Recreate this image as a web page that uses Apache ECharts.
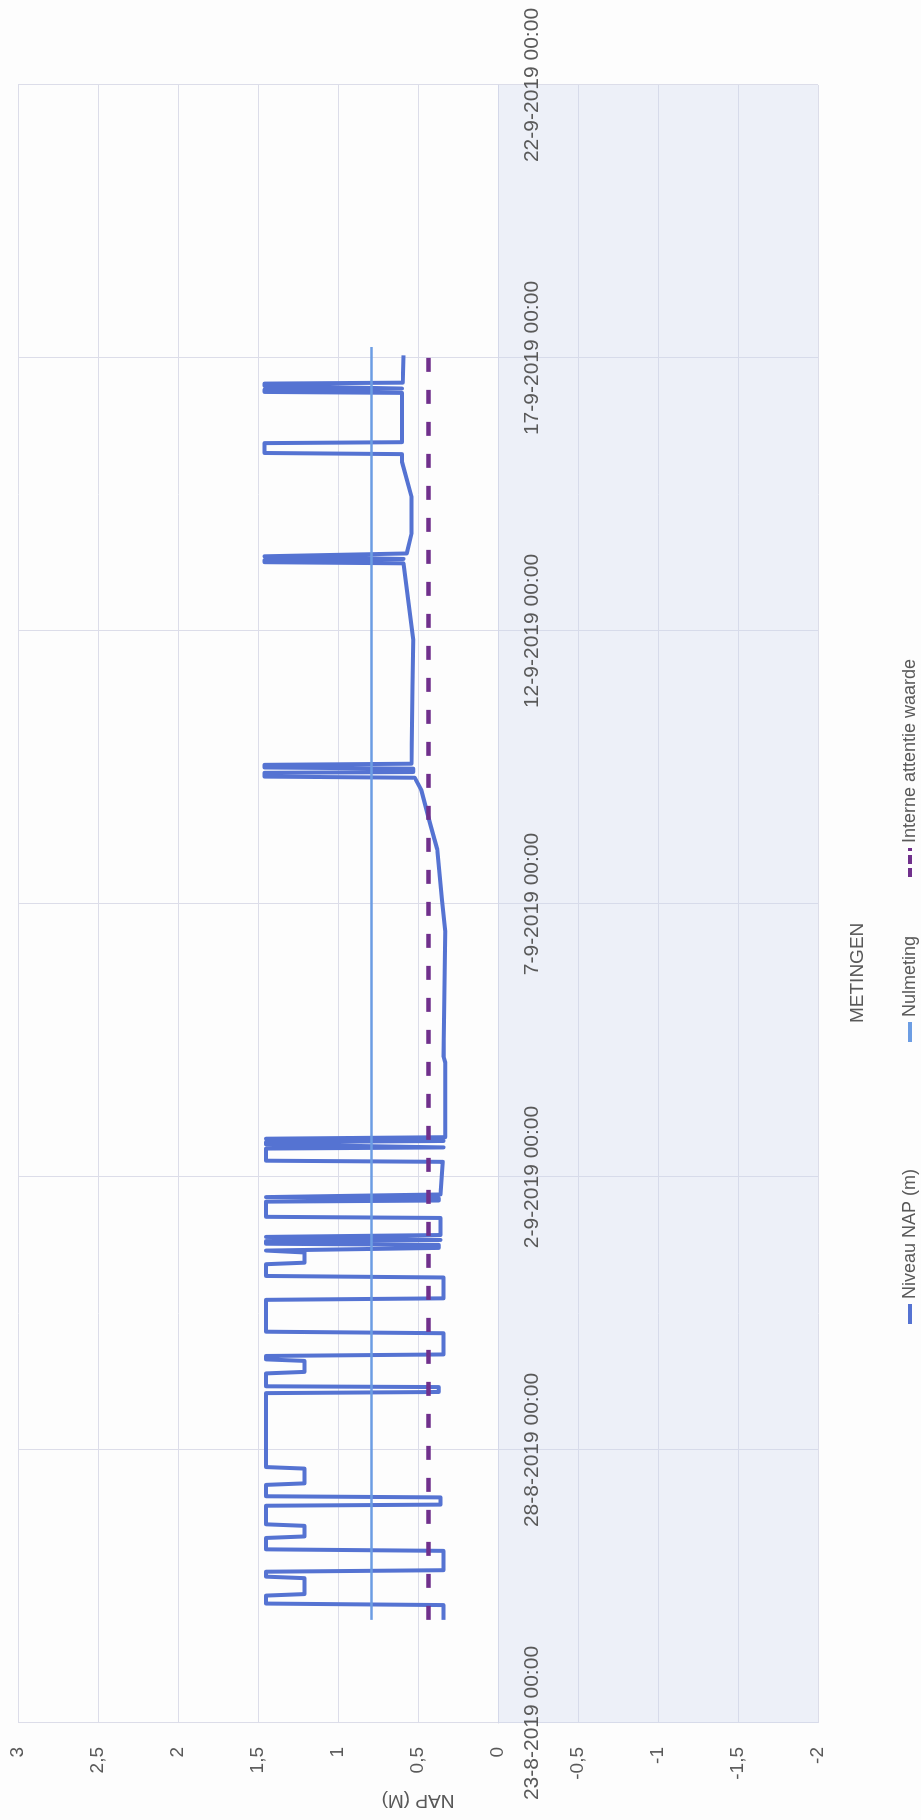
<!DOCTYPE html>
<html><head><meta charset="utf-8">
<script src="https://cdn.jsdelivr.net/npm/echarts@6/dist/echarts.min.js"></script>
<style>
html,body{margin:0;padding:0;width:921px;height:1820px;overflow:hidden;background:#fdfdfd;}
#chart{position:absolute;left:0;top:0;width:1820px;height:921px;transform-origin:0 0;transform:translate(0px,1820px) rotate(-90deg);}
</style></head><body><div id="chart"></div>
<script>
// ---- data ----
const startDate = '2019-08-23 00:00';
const xTickLabels = ['23-8-2019 00:00','28-8-2019 00:00','2-9-2019 00:00','7-9-2019 00:00','12-9-2019 00:00','17-9-2019 00:00','22-9-2019 00:00'];
const yTickLabels = ['-2','-1,5','-1','-0,5','0','0,5','1','1,5','2','2,5','3'];
const seriesNames = ['Niveau NAP (m)', 'Nulmeting', 'Interne attentie waarde'];

const niveauTime = [
'2019-08-24 21:20','2019-08-25 03:50','2019-08-25 04:30','2019-08-25 08:00','2019-08-25 08:40','2019-08-25 15:40','2019-08-25 16:20','2019-08-25 18:30','2019-08-25 19:10',
'2019-08-26 03:40','2019-08-26 04:20','2019-08-26 09:20','2019-08-26 10:00','2019-08-26 14:40','2019-08-26 15:20','2019-08-26 23:30',
'2019-08-27 00:00','2019-08-27 03:10','2019-08-27 03:40','2019-08-27 08:40','2019-08-27 09:20','2019-08-27 15:50','2019-08-27 16:30',
'2019-08-29 01:00','2019-08-29 01:30','2019-08-29 03:40','2019-08-29 04:00','2019-08-29 09:40','2019-08-29 10:20','2019-08-29 15:10','2019-08-29 15:50','2019-08-29 17:20','2019-08-29 18:00',
'2019-08-30 03:20','2019-08-30 04:00','2019-08-30 18:00','2019-08-30 18:40',
'2019-08-31 03:50','2019-08-31 04:30','2019-08-31 09:40','2019-08-31 10:20','2019-08-31 14:50','2019-08-31 15:40','2019-08-31 16:20','2019-08-31 16:50','2019-08-31 18:10','2019-08-31 18:40','2019-08-31 19:50','2019-08-31 20:20','2019-08-31 21:10','2019-08-31 21:40','2019-08-31 22:00','2019-08-31 22:30',
'2019-09-01 06:00','2019-09-01 06:30','2019-09-01 13:10','2019-09-01 13:40','2019-09-01 14:40','2019-09-01 15:10','2019-09-01 15:50','2019-09-01 16:20',
'2019-09-02 06:40','2019-09-02 07:10','2019-09-02 12:30','2019-09-02 13:00','2019-09-02 13:50','2019-09-02 14:20','2019-09-02 15:20','2019-09-02 15:50','2019-09-02 16:30','2019-09-02 16:50','2019-09-02 17:15','2019-09-02 17:30',
'2019-09-04 02:20','2019-09-04 04:50','2019-09-06 12:00','2019-09-07 01:40','2019-09-08 00:00','2019-09-08 11:30',
'2019-09-09 02:10','2019-09-09 07:30','2019-09-09 08:00','2019-09-09 09:40','2019-09-09 10:00','2019-09-09 11:30','2019-09-09 12:00','2019-09-09 13:10','2019-09-09 13:40',
'2019-09-11 00:00','2019-09-11 20:10',
'2019-09-13 05:45','2019-09-13 06:15','2019-09-13 07:10','2019-09-13 07:40','2019-09-13 08:25','2019-09-13 08:50','2019-09-13 09:35','2019-09-13 10:05','2019-09-13 19:00',
'2019-09-14 10:50','2019-09-15 02:20','2019-09-15 05:45','2019-09-15 06:15','2019-09-15 10:35','2019-09-15 11:00',
'2019-09-16 08:40','2019-09-16 09:05','2019-09-16 10:05','2019-09-16 10:35','2019-09-16 11:15','2019-09-16 11:45','2019-09-16 12:45','2019-09-16 13:10',
'2019-09-17 01:10'
];
const niveauValue = [
0.34,0.34,1.45,1.45,1.21,1.21,1.45,1.45,0.34,
0.34,1.45,1.45,1.21,1.21,1.45,1.45,
0.36,0.36,1.45,1.45,1.21,1.21,1.45,
1.45,0.37,0.37,1.45,1.45,1.21,1.21,1.45,1.45,0.34,
0.34,1.45,1.45,0.34,
0.34,1.45,1.45,1.21,1.21,1.45,1.45,0.37,0.37,1.45,1.45,0.36,0.36,1.45,1.45,0.36,
0.36,1.45,1.45,0.37,0.37,1.45,1.45,0.36,
0.345,1.45,1.45,0.34,0.34,1.45,1.45,0.34,0.34,1.45,1.45,0.33,
0.33,0.34,0.33,0.35,0.38,0.425,
0.48,0.52,1.46,1.46,0.53,0.53,1.46,1.46,0.54,
0.535,0.53,
0.59,1.46,1.46,0.59,0.59,1.46,1.46,0.57,0.54,
0.54,0.60,0.60,1.46,1.46,0.60,
0.60,1.46,1.46,0.60,0.60,1.46,1.46,0.595,
0.59
];
const nulmetingTime = ['2019-08-24 21:20','2019-09-17 04:50'];
const nulmetingValue = [0.79, 0.79];
const interneTime = ['2019-08-24 21:20','2019-09-17 04:50'];
const interneValue = [0.435, 0.435];

// ---- helpers ----
const DAY = 86400000;
function ms(s){ return Date.parse(s.replace(' ','T') + ':00Z'); }
const base = ms(startDate);
function toDay(s){ return (ms(s) - base) / DAY; }
function pairs(t, v){ return t.map((s,i)=>[toDay(s), v[i]]); }

const chart = echarts.init(document.getElementById('chart'), null, {renderer:'canvas'});
const txt = '#595959';
const font = 'Liberation Sans';
const cNiveau = '#5573d2', cNul = '#6c9de3', cInt = '#70308c';
const legendText = {fontFamily: font, fontSize: 18, color: txt};
const solidIcon = 'path://M0,0H20V4H0Z';
const dashIcon = 'path://M0,0H9V4H0Z M13,0H22V4H13Z M26,0H29V4H26Z';
chart.setOption({
  backgroundColor: '#fdfdfd',
  animation: false,
  textStyle: {fontFamily: font},
  grid: {left: 97, right: 85, top: 18, bottom: 103},
  title: {
    text: 'METINGEN', left: 792, top: 843,
    textStyle: {fontFamily: font, fontSize: 19, fontWeight: 'normal', color: txt}
  },
  legend: [
    {left: 491, top: 896, itemWidth: 20, itemHeight: 4, textStyle: legendText,
      data: [{name: seriesNames[0], icon: solidIcon}]},
    {left: 773, top: 896, itemWidth: 20, itemHeight: 4, textStyle: legendText,
      data: [{name: seriesNames[1], icon: solidIcon}]},
    {left: 938, top: 896, itemWidth: 29, itemHeight: 4, textStyle: legendText,
      data: [{name: seriesNames[2], icon: dashIcon}]}
  ],
  xAxis: {
    type: 'value', min: 0, max: 30, interval: 5,
    position: 'bottom', offset: -320,
    axisLine: {show: true, onZero: false, lineStyle: {color: '#d8d9e6', width: 1}},
    axisTick: {show: false},
    splitLine: {show: true, lineStyle: {color: '#dcdde9', width: 1}},
    axisLabel: {show: false}
  },
  yAxis: {
    type: 'value', min: -2, max: 3, interval: 0.5,
    name: 'NAP (M)', nameLocation: 'middle', nameGap: 62,
    nameTextStyle: {fontFamily: font, fontSize: 19, color: txt},
    axisLine: {show: false}, axisTick: {show: false},
    splitLine: {show: true, lineStyle: {color: '#dcdde9', width: 1}},
    axisLabel: {margin: 24, fontSize: 19, color: txt, fontFamily: font,
      formatter: v => yTickLabels[Math.round((v + 2) / 0.5)]}
  },
  series: [
    {
      name: seriesNames[0], type: 'line', symbol: 'none', z: 3,
      data: pairs(niveauTime, niveauValue),
      lineStyle: {color: cNiveau, width: 4, join: 'round'},
      itemStyle: {color: cNiveau},
      markArea: {silent: true, label: {show: false}, itemStyle: {color: 'rgba(205,214,238,0.35)'},
        data: [[{yAxis: -2}, {yAxis: 0}]]}
    },
    {
      name: seriesNames[1], type: 'line', symbol: 'none', z: 4,
      data: pairs(nulmetingTime, nulmetingValue),
      lineStyle: {color: cNul, width: 2.5},
      itemStyle: {color: cNul}
    },
    {
      name: seriesNames[2], type: 'line', symbol: 'none', z: 5,
      data: pairs(interneTime, interneValue),
      lineStyle: {color: cInt, width: 4.5, type: [14, 18], cap: 'butt'},
      itemStyle: {color: cInt}
    }
  ]
});

// time-axis tick labels, placed through the chart's own scales (axis crosses at value 0)
const tickLabels = xTickLabels.map((label, i) => {
  const p = chart.convertToPixel({gridIndex: 0}, [i * 5, 0]);
  return {
    type: 'text', x: p[0], y: p[1] + 24, silent: true, z: 100,
    style: {text: label, fontFamily: font, fontSize: 21, fill: txt, textAlign: 'center', textVerticalAlign: 'top'}
  };
});
chart.setOption({graphic: tickLabels});
</script></body></html>
